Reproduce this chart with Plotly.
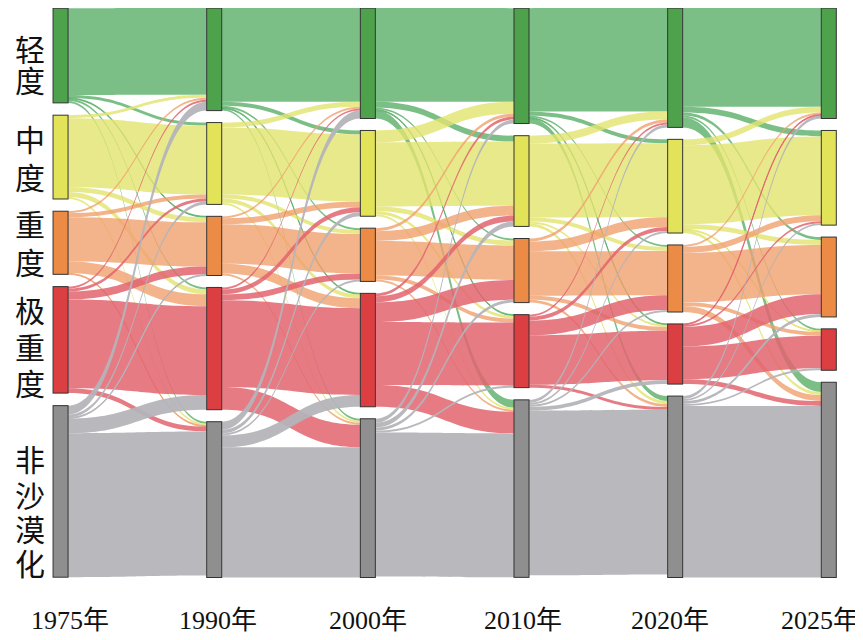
import plotly.graph_objects as go

years = ["1975年", "1990年", "2000年", "2010年", "2020年", "2025年"]
classes = ["轻度", "中度", "重度", "极重度", "非沙漠化"]
node_colors = ["#4ea24b", "#e3e35a", "#ec8b45", "#dc3f41", "#8f8f8f"]
link_colors = ["rgba(90,175,105,0.8)", "rgba(226,228,110,0.8)", "rgba(240,160,110,0.8)",
               "rgba(226,100,110,0.85)", "rgba(180,180,185,0.95)"]

# transition matrices, rows = source class, cols = target class
t_1975_1990 = [[88, 3, 1, 2, 2], [3, 70, 5, 5, 2], [2, 4, 45, 12, 1], [2, 3, 8, 90, 5], [9, 3, 1, 15, 146]]
t_1990_2000 = [[95, 4, 2, 1, 2], [5, 68, 4, 4, 2], [2, 6, 40, 10, 2], [2, 5, 6, 88, 23], [8, 4, 2, 12, 132]]
t_2000_2010 = [[95, 6, 2, 1, 8], [12, 65, 5, 3, 2], [3, 10, 35, 4, 2], [3, 6, 20, 64, 22], [4, 5, 3, 2, 146]]
t_2010_2020 = [[105, 4, 2, 1, 5], [8, 75, 4, 2, 3], [3, 10, 45, 4, 3], [2, 4, 15, 50, 3], [3, 2, 2, 4, 167]]
t_2020_2025 = [[100, 6, 3, 2, 10], [6, 80, 5, 1, 3], [2, 6, 50, 4, 6], [1, 2, 20, 33, 5], [3, 2, 3, 2, 174]]
transitions = [t_1975_1990, t_1990_2000, t_2000_2010, t_2010_2020, t_2020_2025]

n = len(classes)
src, tgt, val, lcol = [], [], [], []
for k, m in enumerate(transitions):
    for i in range(n):
        for j in range(n):
            src.append(k * n + i)
            tgt.append((k + 1) * n + j)
            val.append(m[i][j])
            lcol.append(link_colors[i])

# node sizes = max(in, out)
outs = [0] * (n * len(years)); ins = [0] * (n * len(years))
for s, t, v in zip(src, tgt, val):
    outs[s] += v; ins[t] += v
sizes = [max(a, b) for a, b in zip(outs, ins)]

nx, ny = [], []
for k in range(len(years)):
    col = sizes[k * n:(k + 1) * n]
    pad = 12
    total = sum(col) + pad * (n - 1)
    y0 = 0
    for v in col:
        nx.append(0.001 + k / (len(years) - 1) * 0.998)
        ny.append(max(0.001, min(0.999, (y0 + v / 2) / total)))
        y0 += v + pad

fig = go.Figure(go.Sankey(
    arrangement="fixed",
    domain=dict(x=[0.06, 0.952], y=[0.11, 1.0]),
    node=dict(label=[""] * len(sizes), x=nx, y=ny, pad=12, thickness=15,
              color=node_colors * len(years), line=dict(color="#333", width=1)),
    link=dict(source=src, target=tgt, value=val, color=lcol),
))

font = "Liberation Serif, Noto Sans CJK SC"
char_y = [[42, 74], [132, 170], [218, 255], [303, 340, 376], [452, 488, 522, 556]]
for c, ys in zip(classes, char_y):
    for ch, yy in zip(c, ys):
        fig.add_annotation(x=22 / 863, y=1 - yy / 640, xref="paper", yref="paper",
                           xanchor="center", yanchor="middle", showarrow=False,
                           text=ch, font=dict(size=30, family=font, color="#111"))
year_x = [62, 210, 360, 515, 662, 812]
for yr, xx in zip(years, year_x):
    fig.add_annotation(x=xx / 863, y=1 - 612 / 640, xref="paper", yref="paper",
                       xanchor="center", yanchor="middle", showarrow=False,
                       text=yr, font=dict(size=26, family=font, color="#111"))

fig.update_layout(width=863, height=640, margin=dict(l=0, r=0, t=0, b=0),
                  paper_bgcolor="white", plot_bgcolor="white")
fig.write_html("out.html")
